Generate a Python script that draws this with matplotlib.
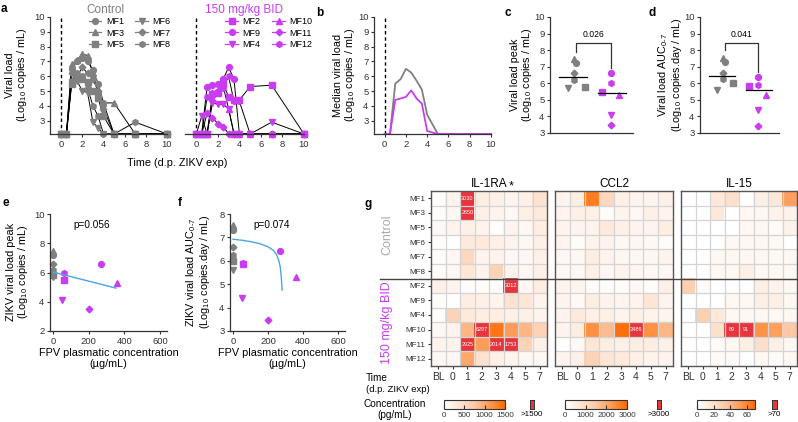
import numpy as np
import matplotlib
matplotlib.use('Agg')
import matplotlib.pyplot as plt
from matplotlib.colors import LinearSegmentedColormap, Normalize
from matplotlib.lines import Line2D
import matplotlib.cm as cm

plt.rcParams['font.family'] = ['Liberation Sans', 'DejaVu Sans']
plt.rcParams['font.size'] = 6
plt.rcParams['mathtext.fontset'] = 'custom'
plt.rcParams['mathtext.rm'] = 'Liberation Sans'

GRAY = '#808080'
MAG = '#c93cf2'
RED = '#e8343c'
DARK = '#333333'

# ---- data ----
times = [0, 0.5, 1, 1.5, 2, 2.5, 3, 3.5, 4, 5, 7, 10]

ctrl_names = ['MF1', 'MF3', 'MF5', 'MF6', 'MF7', 'MF8']
ctrl_markers = ['o', '^', 's', 'v', 'D', 'h']
ctrl_vl = [
    [2.1, 2.1, 6.5, 7.0, 7.2, 7.0, 6.4, 5.5, 4.2, 2.1, 2.1, 2.1],
    [2.1, 2.1, 6.8, 7.1, 7.5, 7.4, 6.2, 5.0, 4.2, 4.2, 2.1, 2.1],
    [2.1, 2.1, 5.5, 5.8, 5.8, 5.6, 5.0, 4.5, 3.3, 2.1, 2.1, 2.1],
    [2.1, 2.1, 5.6, 5.7, 5.0, 4.9, 2.9, 2.5, 2.1, 2.1, 2.1, 2.1],
    [2.1, 2.1, 6.2, 6.0, 6.6, 6.2, 5.8, 5.0, 3.8, 2.1, 2.1, 2.1],
    [2.1, 2.1, 5.7, 6.2, 6.0, 5.2, 4.0, 3.3, 2.1, 2.1, 2.9, 2.1],
]

trt_names = ['MF2', 'MF9', 'MF4', 'MF10', 'MF11', 'MF12']
trt_markers = ['s', 'o', 'v', '^', 'D', 'h']
trt_vl = [
    [2.1, 2.1, 2.1, 4.8, 4.9, 5.5, 4.6, 4.4, 4.4, 5.3, 5.4, 2.1],
    [2.1, 2.1, 5.3, 5.4, 5.5, 5.8, 6.6, 5.8, 2.1, 2.1, 2.1, 2.1],
    [2.1, 3.3, 2.1, 4.2, 4.1, 4.1, 3.8, 2.1, 2.1, 2.1, 2.9, 2.1],
    [2.1, 2.1, 2.1, 4.5, 5.0, 5.3, 3.8, 2.1, 2.1, 2.1, 2.1, 2.1],
    [2.1, 2.1, 3.5, 3.2, 2.8, 2.6, 2.1, 2.1, 2.1, 2.1, 2.1, 2.1],
    [2.1, 2.1, 4.6, 4.9, 5.0, 5.2, 6.0, 4.3, 4.3, 2.1, 2.1, 2.1],
]

median_ctrl = [2.1, 2.1, 5.5, 5.8, 6.5, 6.25, 5.7, 5.1, 3.4, 2.1, 2.1, 2.1]
median_trt = [2.1, 2.1, 4.4, 4.5, 4.6, 5.05, 4.5, 4.15, 2.3, 2.1, 2.1, 2.1]

ctrl_peak = [7.2, 7.45, 5.8, 5.7, 6.6, 6.2]
trt_peak = [5.5, 6.6, 4.1, 5.3, 3.5, 6.0]
ctrl_auc = [7.3, 7.55, 6.0, 5.6, 6.6, 6.25]
trt_auc = [5.85, 6.4, 4.4, 5.3, 3.45, 5.9]
trt_fpv = [60, 270, 50, 360, 200, 60]
ctrl_fpv = [0, 0, 0, 0, 0, 0]

fit_e_x = [0, 354]
fit_e_y = [6.03, 4.93]
fit_f_x = [0, 50, 100, 150, 200, 230, 250, 262, 270, 276, 281]
fit_f_y = [6.92, 6.88, 6.82, 6.74, 6.6, 6.45, 6.25, 6.0, 5.75, 5.3, 4.75]

hm_rows = ['MF1', 'MF3', 'MF5', 'MF6', 'MF7', 'MF8',
           'MF2', 'MF9', 'MF4', 'MF10', 'MF11', 'MF12']
hm_cols = ['BL', '0', '1', '2', '3', '4', '5', '7']

il1ra = [
    [50, 150, 3030, 250, 200, 150, 200, 400],
    [30, 100, 2650, 200, 150, 100, 200, 300],
    [100, 150, 200, 150, 20, 150, 100, 250],
    [50, 0, 300, 300, 200, 150, 100, 200],
    [50, 100, 550, 150, 150, 100, 100, 200],
    [50, 100, 350, 150, 600, 150, 100, 200],
    [200, 150, 30, 30, 50, 3012, 100, 250],
    [50, 0, 250, 200, 150, 400, 350, 150],
    [50, 600, 300, 250, 250, 200, 200, 150],
    [100, 150, 900, 6297, 1400, 1100, 900, 600],
    [150, 150, 2925, 1100, 2014, 1753, 600, 200],
    [100, 100, 1000, 400, 200, 150, 100, 100],
]
ccl2 = [
    [300, 500, 2700, 1100, 400, 300, 300, 400],
    [300, 400, 400, 100, 300, 200, 400, 300],
    [300, 300, 300, 600, 400, 300, 300, 500],
    [300, 100, 300, 300, 200, 250, 200, 100],
    [200, 200, 500, 300, 250, 200, 250, 300],
    [200, 200, 400, 200, 300, 250, 200, 200],
    [300, 300, 100, 100, 100, 200, 100, 400],
    [300, 150, 500, 300, 300, 300, 700, 300],
    [300, 600, 400, 400, 300, 400, 300, 300],
    [300, 500, 2400, 1700, 2900, 3486, 2400, 1800],
    [0, 150, 700, 500, 400, 500, 500, 400],
    [300, 400, 1200, 700, 600, 400, 300, 300],
]
il15 = [
    [0, 0, 15, 20, 0, 10, 15, 50],
    [0, 0, 15, 0, 5, 5, 8, 8],
    [0, 0, 0, 0, 5, 5, 3, 8],
    [0, 0, 0, 5, 5, 5, 5, 0],
    [0, 0, 5, 5, 5, 5, 5, 5],
    [0, 0, 5, 5, 10, 5, 5, 5],
    [30, 3, 0, 0, 0, 10, 8, 5],
    [0, 0, 0, 5, 5, 10, 10, 5],
    [0, 30, 15, 5, 5, 5, 5, 5],
    [0, 0, 20, 89, 91, 55, 50, 35],
    [0, 0, 3, 5, 10, 20, 10, 5],
    [0, 0, 3, 3, 0, 5, 3, 5],
]

# ---- figure ----
W, H = 798, 422
fig = plt.figure(figsize=(W / 100, H / 100), dpi=100)


def add_ax(l, t, r, b):
    return fig.add_axes([l / W, 1 - b / H, (r - l) / W, (b - t) / H])


def prism(ax, left=True):
    for s in ['top', 'right']:
        ax.spines[s].set_visible(False)
    for s in ['left', 'bottom']:
        ax.spines[s].set_color(DARK)
        ax.spines[s].set_linewidth(0.9)
    if not left:
        ax.spines['left'].set_visible(False)
        ax.tick_params(axis='y', left=False, labelleft=False)
    ax.tick_params(direction='out', length=2.5, width=0.8, colors=DARK,
                   labelsize=6.8, pad=1.5)


def ftext(x, y, s, **kw):
    fig.text(x / W, 1 - y / H, s, **kw)


LOG_LBL = '(Log$_{10}$ copies / mL)'

# panel a
for (l, r), names, markers, series, col, lx in [
        ((50, 167), ctrl_names, ctrl_markers, ctrl_vl, GRAY, 0.33),
        ((185, 304), trt_names, trt_markers, trt_vl, MAG, 0.34)]:
    ax = add_ax(l, 17, r, 134)
    prism(ax, left=(col == GRAY))
    ax.set_xlim(-1.05, 10)
    ax.set_ylim(2.1, 10)
    ax.set_yticks(range(3, 11))
    ax.set_xticks(range(0, 11, 2))
    ax.axvline(0, color='k', lw=1, ls=(0, (2.5, 2)), zorder=0)
    handles = []
    for ys, m in zip(series, markers):
        ax.plot(times, ys, color='k', lw=0.7, zorder=1, clip_on=False)
        ax.plot(times, ys, ls='none', marker=m, color=col, ms=4.2 if m != 'D' else 3.4,
                zorder=2, clip_on=False)
        handles.append(Line2D([], [], color=col, lw=0.9, marker=m,
                              ms=4.2 if m != 'D' else 3.4))
    ax.legend(handles, names, ncol=2, loc='upper left', frameon=False,
              bbox_to_anchor=(lx, 1.0), borderaxespad=0, borderpad=0,
              fontsize=6.5, handlelength=1.4, handletextpad=0.5,
              columnspacing=1.3, labelspacing=0.28)

ftext(105, 10, 'Control', color=GRAY, fontsize=8.5, ha='center', va='center')
ftext(244, 10, '150 mg/kg BID', color=MAG, fontsize=8.5, ha='center', va='center')
ftext(177, 163, 'Time (d.p. ZIKV exp)', fontsize=7.8, ha='center', va='center')
ftext(17, 75, 'Viral load\n' + LOG_LBL, fontsize=7.8, ha='center', va='center',
      rotation=90, linespacing=1.0)

# panel b
ax = add_ax(374, 17, 491, 134)
prism(ax)
ax.set_xlim(-1, 10)
ax.set_ylim(2.1, 10)
ax.set_yticks(range(3, 11))
ax.set_xticks(range(0, 11, 2))
ax.axvline(0, color='k', lw=1, ls=(0, (2.5, 2)), zorder=0)
ax.plot(times, median_ctrl, color=GRAY, lw=1.3, clip_on=False)
ax.plot(times, median_trt, color=MAG, lw=1.3, clip_on=False)
ftext(345, 75, 'Median viral load\n' + LOG_LBL, fontsize=7.8, ha='center',
      va='center', rotation=90, linespacing=1.0)

# panels c and d
ctrl_dx = [0.05, 0.0, 0.3, -0.17, 0.0, 0.0]
trt_dx = [-0.25, 0.0, 0.0, 0.22, 0.0, 0.0]
for (l, r), vals_c, vals_t, pval, lbl, ytxt in [
        ((550, 633), ctrl_peak, trt_peak, '0.026',
         'Viral load peak\n' + LOG_LBL, 522),
        ((700, 779), ctrl_auc, trt_auc, '0.041',
         'Viral load AUC$_{0\u20107}$\n(Log$_{10}$ copies.day / mL)', 670)]:
    ax = add_ax(l, 17, r, 133)
    prism(ax)
    ax.set_ylim(3, 10)
    ax.set_xlim(-0.65, 1.6)
    ax.set_yticks(range(3, 11))
    ax.set_xticks([])
    for v, m, dx in zip(vals_c, ctrl_markers, ctrl_dx):
        ax.plot(0 + dx, v, marker=m, color=GRAY, ms=4.2 if m != 'D' else 3.4,
                ls='none')
    for v, m, dx in zip(vals_t, trt_markers, trt_dx):
        ax.plot(1 + dx, v, marker=m, color=MAG, ms=4.2 if m != 'D' else 3.4,
                ls='none')
    mc, mt = np.median(vals_c), np.median(vals_t)
    ax.plot([-0.4, 0.35], [mc, mc], color='k', lw=0.9)
    ax.plot([0.65, 1.4], [mt, mt], color='k', lw=0.9)
    top = 8.45
    ax.plot([0.05, 0.05, 1.0, 1.0], [max(vals_c) + 0.45, top, top, max(vals_t) + 0.3],
            color=DARK, lw=0.9)
    ax.text(0.52, top + 0.2, pval, ha='center', va='bottom', fontsize=6.2)
    ftext(ytxt, 75, lbl, fontsize=7.8, ha='center', va='center',
          rotation=90, linespacing=1.0)

# panels e and f
for (l, r), ylim, yticks, vc, vt, fx, fy, ptxt, ylbl, ylx in [
        ((50, 167), (2, 10), range(2, 11, 2), ctrl_peak, trt_peak, fit_e_x, fit_e_y,
         'p=0.056', 'ZIKV viral load peak\n' + LOG_LBL, 18),
        ((230, 345), (3, 8), range(3, 9), ctrl_auc, trt_auc, fit_f_x, fit_f_y,
         'p=0.074', 'ZIKV viral load AUC$_{0\u20107}$\n(Log$_{10}$ copies.day / mL)', 198)]:
    ax = add_ax(l, 214, r, 331)
    prism(ax)
    ax.set_ylim(*ylim)
    ax.set_xlim(-17, 640)
    ax.set_yticks(list(yticks))
    ax.set_xticks([0, 200, 400, 600])
    for x, v, m in zip(ctrl_fpv, vc, ctrl_markers):
        ax.plot(x, v, marker=m, color=GRAY, ms=4.2 if m != 'D' else 3.4,
                ls='none', clip_on=False)
    for x, v, m in zip(trt_fpv, vt, trt_markers):
        ax.plot(x, v, marker=m, color=MAG, ms=4.2 if m != 'D' else 3.4,
                ls='none', clip_on=False)
    ax.plot(fx, fy, color='#4ea3e6', lw=1.0)
    ax.text(0.2, 0.88, ptxt, transform=ax.transAxes, fontsize=7.2)
    ax.set_xlabel('FPV plasmatic concentration\n(\u00b5g/mL)', fontsize=7.8,
                  labelpad=2, linespacing=1.1)
    ftext(ylx, 272, ylbl, fontsize=7.8, ha='center', va='center',
          rotation=90, linespacing=1.0)

# panel g heatmaps
base = LinearSegmentedColormap.from_list('wo', ['#ffffff', '#fdc9a6', '#ff6a00'])
hm_specs = [
    ('IL-1RA', il1ra, 1500, (431, 547), [0, 500, 1000, 1500], (444, 505), (530, 534), '>1500'),
    ('CCL2', ccl2, 3000, (555, 673), [0, 1000, 2000, 3000], (565, 627), (657, 661), '>3000'),
    ('IL-15', il15, 70, (681, 797), [0, 20, 40, 60], (697, 755), (772, 777), '>70'),
]
for k, (title, mat, vmax, (l, r), cticks, (cl, cr), (rl, rr), otxt) in enumerate(hm_specs):
    cmap = base.copy()
    cmap.set_over(RED)
    norm = Normalize(0, vmax)
    arr = np.array(mat, dtype=float)
    ax = add_ax(l, 191, r, 366)
    ax.imshow(arr, cmap=cmap, norm=norm, aspect='auto',
              extent=(-0.5, 7.5, 11.5, -0.5), interpolation='nearest')
    for i in range(1, 8):
        ax.axvline(i - 0.5, color='#d4d4d4', lw=0.9)
    for i in range(1, 12):
        ax.axhline(i - 0.5, color='#d4d4d4', lw=0.9)
    for i in range(arr.shape[0]):
        for j in range(arr.shape[1]):
            if arr[i, j] > vmax:
                ax.text(j, i, '%d' % arr[i, j], color='white', fontsize=4,
                        ha='center', va='center')
    for s in ax.spines.values():
        s.set_color('#555555')
        s.set_linewidth(1.0)
    ax.set_xticks(range(8))
    ax.set_xticklabels(hm_cols, fontsize=7.5)
    ax.set_yticks(range(12))
    if k == 0:
        ax.set_yticklabels(hm_rows, fontsize=5.8)
    else:
        ax.tick_params(axis='y', left=False, labelleft=False)
    ax.tick_params(direction='out', length=2.5, width=0.8, colors=DARK, pad=1.5)
    ax.set_title(title, fontsize=8.5, pad=3)
    if k == 0:
        ax.text(0.69, 1.025, '*', transform=ax.transAxes, fontsize=9,
                ha='center', va='center')

    cax = add_ax(cl, 400, cr, 409)
    cb = fig.colorbar(cm.ScalarMappable(norm=norm, cmap=base), cax=cax,
                      orientation='horizontal', ticks=cticks)
    cb.outline.set_linewidth(0.8)
    cb.outline.set_edgecolor(DARK)
    cax.tick_params(direction='in', length=3, width=0.8, labelsize=5.8, pad=2,
                    colors=DARK)
    rax = add_ax(rl, 400, rr, 409)
    rax.set_facecolor(RED)
    rax.set_xticks([])
    rax.set_yticks([])
    for s in rax.spines.values():
        s.set_linewidth(0.7)
        s.set_color(DARK)
    ftext((rl + rr) / 2, 415, otxt, fontsize=5.8, ha='center', va='center')

fig.add_artist(Line2D([380 / W, 798 / W], [1 - 278.5 / H] * 2, color='#444444', lw=1.0))
ftext(387, 235, 'Control', color='#aaaaaa', fontsize=9, rotation=90,
      ha='center', va='center')
ftext(387, 323, '150 mg/kg BID', color=MAG, fontsize=9, rotation=90,
      ha='center', va='center')
ftext(366, 378, 'Time', fontsize=7.2, ha='left', va='center')
ftext(366, 390, '(d.p. ZIKV exp)', fontsize=6.8, ha='left', va='center')
ftext(395, 404, 'Concentration', fontsize=7.2, ha='center', va='center')
ftext(395, 415, '(pg/mL)', fontsize=7.2, ha='center', va='center')

# panel letters
for lt, x, y in [('a', 4, 9), ('b', 320, 13), ('c', 508, 13), ('d', 652, 13),
                 ('e', 6, 203), ('f', 180, 203), ('g', 368, 204)]:
    ftext(x, y, lt, fontsize=8.5, fontweight='bold', ha='center', va='center')

fig.savefig('out.png', dpi=100)
